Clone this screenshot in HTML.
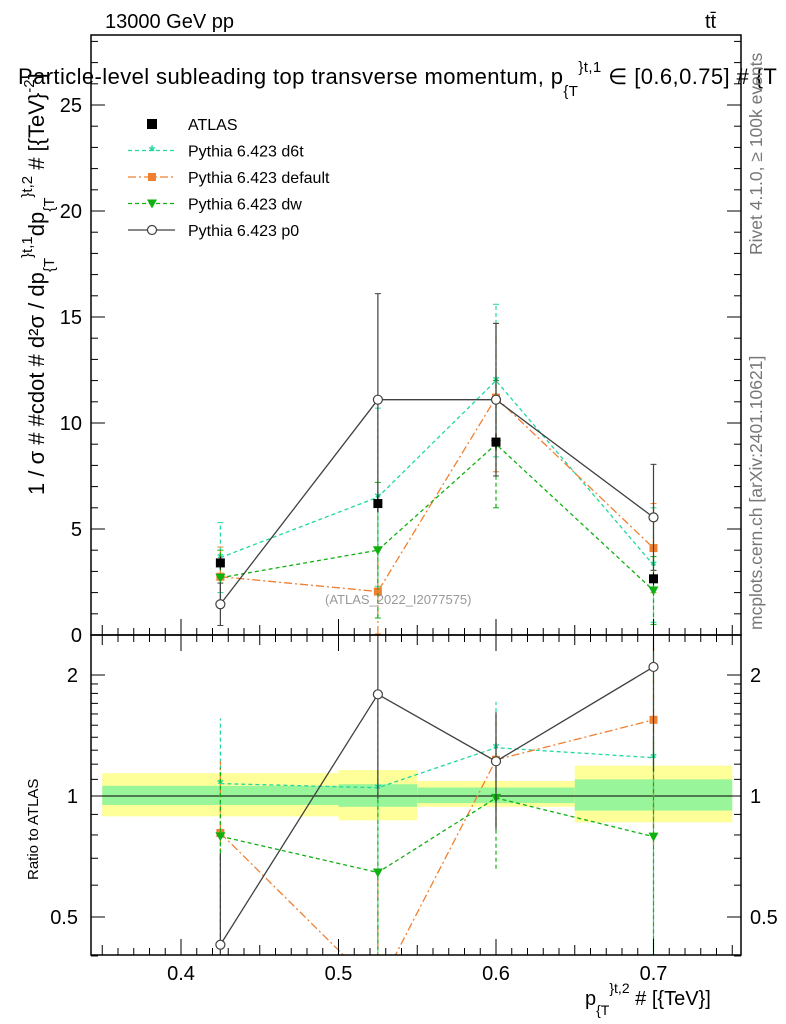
<!DOCTYPE html>
<html><head><meta charset="utf-8"><style>
html,body{margin:0;background:#fff;overflow:hidden;width:786px;height:1024px}
svg{font-family:"Liberation Sans",sans-serif;display:block}
</style></head><body>
<svg id="c" width="786" height="1024" viewBox="0 0 786 1024">
<defs>
<clipPath id="cm"><rect x="91" y="35" width="650" height="600"/></clipPath>
<clipPath id="cr"><rect x="91" y="635" width="650" height="320"/></clipPath>
</defs>
<g id="g"></g>
<text x="105" y="28" font-size="20">13000 GeV pp</text>
<text x="705" y="28" font-size="20">tt̄</text>
<text x="18" y="84" font-size="22" letter-spacing="0.4">Particle-level subleading top transverse momentum, p<tspan font-size="15" dy="12">{T</tspan><tspan font-size="15" dy="-24">}t,1</tspan><tspan dy="12"> ∈ [0.6,0.75] # {T</tspan></text>
<text transform="translate(44,495) rotate(-90)" font-size="22">1 / σ # #cdot # d²σ / dp<tspan font-size="15" dy="10">{T</tspan><tspan font-size="15" dy="-22">}t,1</tspan><tspan dy="12">dp</tspan><tspan font-size="15" dy="10">{T</tspan><tspan font-size="15" dy="-22">}t,2</tspan><tspan dy="12"> # [{TeV}</tspan><tspan font-size="15" dy="-10">-2</tspan><tspan dy="10">]</tspan></text>
<text transform="translate(38,880) rotate(-90)" font-size="15">Ratio to ATLAS</text>
<text x="585" y="1005" font-size="20">p<tspan font-size="14" dy="10">{T</tspan><tspan font-size="14" dy="-22">}t,2</tspan><tspan dy="12"> # [{TeV}]</tspan></text>
<text transform="translate(762,255) rotate(-90)" font-size="17.5" fill="#777">Rivet 4.1.0, ≥ 100k events</text>
<text transform="translate(762,630) rotate(-90)" font-size="17.5" fill="#777">mcplots.cern.ch [arXiv:2401.10621]</text>
<text x="325" y="604" font-size="13" fill="#999">(ATLAS_2022_I2077575)</text>
</svg>
<script>
const xs=[0.425,0.525,0.6,0.7];
const binEdges=[0.35,0.5,0.55,0.65,0.75];
const atlas=[3.4,6.2,9.1,2.65];
const atlasErr=[0.3,0.4,0.4,0.3];
const yellowLo=[0.89,0.87,0.94,0.86], yellowHi=[1.14,1.16,1.09,1.19];
const greenLo=[0.95,0.94,0.96,0.92], greenHi=[1.06,1.07,1.05,1.10];
const d6t=[3.65,6.5,12.0,3.3], d6tErr=[1.65,4.2,3.6,2.7];
const def=[2.75,2.05,11.2,4.1], defErr=[1.4,2.0,3.5,2.1];
const dw=[2.7,4.0,9.0,2.1], dwErr=[1.3,3.2,3.0,1.6];
const p0=[1.45,11.1,11.1,5.55], p0Err=[1.0,5.0,3.6,2.5];
const yTicks=[0,5,10,15,20,25];
const xTicks=[0.4,0.5,0.6,0.7];
const rTicks=[0.5,1,2];

const NS="http://www.w3.org/2000/svg";
const g=document.getElementById('g');
const X=v=>181+(v-0.4)*1575;
const Y=v=>635-v*21.2;
const R=v=>796-Math.log2(v)*121;
function el(t,a,p){const e=document.createElementNS(NS,t);for(const k in a)e.setAttribute(k,a[k]);(p||g).appendChild(e);return e;}
const mainG=el('g',{'clip-path':'url(#cm)'});


const ratG=el('g',{'clip-path':'url(#cr)'});


for(let i=0;i<4;i++){
 const x1=X(binEdges[i]),x2=X(binEdges[i+1]);
 const b=el('rect',{x:x1,y:R(yellowHi[i]),width:x2-x1,height:R(yellowLo[i])-R(yellowHi[i]),fill:'#ffff99'},ratG);
 
 
 const c=el('rect',{x:x1,y:R(greenHi[i]),width:x2-x1,height:R(greenLo[i])-R(greenHi[i]),fill:'#99f599'},ratG);
 
 
}
el('line',{x1:91,x2:741,y1:R(1),y2:R(1),stroke:'#000','stroke-width':1},ratG);
const series=[
 {v:d6t,e:d6tErr,c:'#20d8a0',d:'4,3',m:'star',n:'d6t'},
 {v:def,e:defErr,c:'#f08030',d:'8,3,2,3',m:'sq',n:'default'},
 {v:dw,e:dwErr,c:'#10b010',d:'4,3',m:'tri',n:'dw'},
 {v:p0,e:p0Err,c:'#404040',d:'',m:'circ',n:'p0'}];
function marker(s,x,y,p){
 let e;
 if(s.m=='sq')e=el('rect',{x:x-4,y:y-4,width:8,height:8,fill:s.c},p);
 else if(s.m=='tri')e=el('path',{d:`M${x-5},${y-4}L${x+5},${y-4}L${x},${y+5}Z`,fill:s.c},p);
 else if(s.m=='circ')e=el('circle',{cx:x,cy:y,r:4.5,fill:'#fff',stroke:s.c,'stroke-width':1.2},p);
 else e=el('text',{x:x,y:y+6,'text-anchor':'middle','font-size':16,fill:s.c,'font-weight':'bold'},p),e.textContent='*';
 
 
}
for(const s of series){
 const pts=xs.map((x,i)=>X(x)+','+Y(s.v[i])).join(' ');
 const l=el('polyline',{points:pts,fill:'none',stroke:s.c,'stroke-width':1.3,'stroke-dasharray':s.d},mainG);
 
 
 const rp=xs.map((x,i)=>X(x)+','+R(s.v[i]/atlas[i])).join(' ');
 const rl=el('polyline',{points:rp,fill:'none',stroke:s.c,'stroke-width':1.3,'stroke-dasharray':s.d},ratG);
 
 
 xs.forEach((x,i)=>{
  const lo=Math.max(s.v[i]-s.e[i],0.01),hi=s.v[i]+s.e[i];
  el('line',{x1:X(x),x2:X(x),y1:Y(lo),y2:Y(hi),stroke:s.c,'stroke-width':1.2,'stroke-dasharray':s.d},mainG);
  el('line',{x1:X(x)-3,x2:X(x)+3,y1:Y(lo),y2:Y(lo),stroke:s.c},mainG);
  el('line',{x1:X(x)-3,x2:X(x)+3,y1:Y(hi),y2:Y(hi),stroke:s.c},mainG);
  el('line',{x1:X(x),x2:X(x),y1:R(lo/atlas[i]),y2:R(hi/atlas[i]),stroke:s.c,'stroke-width':1.2,'stroke-dasharray':s.d},ratG);
  marker(s,X(x),Y(s.v[i]),mainG);
  marker(s,X(x),R(s.v[i]/atlas[i]),ratG);
 });
}
xs.forEach((x,i)=>{
 el('line',{x1:X(x),x2:X(x),y1:Y(atlas[i]-atlasErr[i]),y2:Y(atlas[i]+atlasErr[i]),stroke:'#000'},mainG);
 const m=el('rect',{x:X(x)-4.5,y:Y(atlas[i])-4.5,width:9,height:9,fill:'#000'},mainG);
 
 
});
el('rect',{x:91,y:35,width:650,height:600,fill:'none',stroke:'#000','stroke-width':1.5});
el('rect',{x:91,y:635,width:650,height:320,fill:'none',stroke:'#000','stroke-width':1.5});
for(let v=0;v<=28;v++){const L=v%5==0?14:7;
 el('line',{x1:91,x2:91+L,y1:Y(v),y2:Y(v),stroke:'#000'});
 el('line',{x1:741,x2:741-L,y1:Y(v),y2:Y(v),stroke:'#000'});}
yTicks.forEach(v=>{const t=el('text',{x:82,y:Y(v)+7,'text-anchor':'end','font-size':20});t.textContent=v;});
for(let k=35;k<=75;k++){const v=k/100;const L=k%10==0?16:(k%5==0?10:7);
 [635,955].forEach(b=>{el('line',{x1:X(v),x2:X(v),y1:b,y2:b-L,stroke:'#000'});});
 el('line',{x1:X(v),x2:X(v),y1:635,y2:635+L,stroke:'#000'});}
xTicks.forEach(v=>{const t=el('text',{x:X(v),y:980,'text-anchor':'middle','font-size':20});t.textContent=v.toFixed(1);});
[0.4,0.5,0.6,0.7,0.8,0.9,1,2].forEach(v=>{const L=(v==0.5||v==1||v==2)?14:7;
 el('line',{x1:91,x2:91+L,y1:R(v),y2:R(v),stroke:'#000'});
 el('line',{x1:741,x2:741-L,y1:R(v),y2:R(v),stroke:'#000'});});
[1.1,1.2,1.3,1.4,1.5,1.6,1.7,1.8,1.9].forEach(v=>{
 el('line',{x1:91,x2:98,y1:R(v),y2:R(v),stroke:'#000'});el('line',{x1:741,x2:734,y1:R(v),y2:R(v),stroke:'#000'});});
rTicks.forEach(v=>{const t=el('text',{x:78,y:R(v)+7,'text-anchor':'end','font-size':20});t.textContent=v;
 const t2=el('text',{x:750,y:R(v)+7,'font-size':20});t2.textContent=v;});
const leg=[{n:'ATLAS',s:null}].concat(series.map(s=>({n:'Pythia 6.423 '+s.n,s:s})));
leg.forEach((o,i)=>{const y=124+i*26.5;
 if(o.s){el('line',{x1:128,x2:175,y1:y,y2:y,stroke:o.s.c,'stroke-width':1.3,'stroke-dasharray':o.s.d});marker(o.s,152,y);}
 else{el('rect',{x:147,y:y-5,width:10,height:10,fill:'#000'});}
 const t=el('text',{x:188,y:y+6,'font-size':16});t.textContent=o.n;
 
 
});
</script>
</body></html>
